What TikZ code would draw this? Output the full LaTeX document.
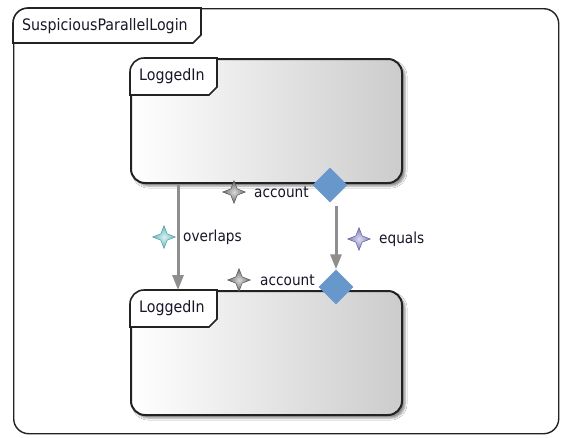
\documentclass[tikz,border=0pt]{standalone}
\usepackage{fontspec}
\setmainfont[FakeStretch=0.9]{DejaVu Sans}
\usetikzlibrary{arrows.meta,shapes.geometric,shadows.blur,calc}

\definecolor{edge}{RGB}{34,34,34}
\definecolor{ink}{RGB}{22,22,40}
\definecolor{flowgray}{RGB}{142,142,142}
\definecolor{keyblue}{RGB}{104,151,204}
\definecolor{boxgray}{RGB}{204,204,204}
\definecolor{stargray}{RGB}{105,105,105}
\definecolor{starteal}{RGB}{100,190,192}
\definecolor{starpurple}{RGB}{120,120,190}

\tikzset{
  frame/.style={draw=edge, line width=1.4pt, rounded corners=15pt, fill=white,
    minimum width=545pt, minimum height=425pt, anchor=north west, inner sep=0pt},
  statebox/.style={draw=edge, line width=2pt, rounded corners=14pt,
    left color=white, right color=boxgray,
    blur shadow={shadow xshift=3pt, shadow yshift=-3pt, shadow blur radius=2pt, shadow opacity=45},
    minimum width=271pt, minimum height=124pt, anchor=north west, inner sep=0pt},
  tabline/.style={draw=edge, line width=1.6pt, fill=white},
  namefont/.style={font=\fontsize{15.8}{18}\selectfont, text=ink, inner sep=0pt, anchor=west},
  labelfont/.style={font=\fontsize{15.2}{18}\selectfont, text=ink, inner sep=0pt, anchor=west},
  keynode/.style={diamond, fill=keyblue, minimum size=35pt, inner sep=0pt},
  marker/.style={star, star points=4, star point ratio=0.4, minimum size=9pt, inner sep=0pt,
    shape border rotate=45,
    shading=radial, inner color=#1!25, outer color=#1, draw=#1!80!black, line width=0.5pt},
  flow/.style={draw=flowgray, line width=3pt, -{Triangle[width=11pt,length=15pt]}},
}

\begin{document}
\begin{tikzpicture}[x=1pt,y=-1pt]
\useasboundingbox (0,0) rectangle (561,437);

% enclosing frame with its name tab
\node[frame] (frame) at (13,8) {};
\path[tabline] ($(frame.north west)+(0,35)$) -- ($(frame.north west)+(0,15)$)
  arc[start angle=180, end angle=270, radius=15]
  -- ($(frame.north west)+(188,0)$) -- ++(0,27) -- ++(-8,8) -- cycle;
\node[namefont] (title) at (22,26) {SuspiciousParallelLogin};

% the two states
\node[statebox] (top) at (130,58) {};
\node[statebox] (bot) at (130,290) {};

\foreach \s in {top,bot}{
  \path[tabline] ($(\s.north west)+(0,37)$) -- ($(\s.north west)+(0,14)$)
    arc[start angle=180, end angle=270, radius=14]
    -- ($(\s.north west)+(87,0)$) -- ++(0,29) -- ++(-8,8) -- cycle;
}
\node[namefont] (topname) at (139,76) {LoggedIn};
\node[namefont] (botname) at (139,308) {LoggedIn};

% key attributes
\node[keynode] (k1) at (330,185) {};
\node[keynode] (k2) at (336,287) {};

% connectors
\draw[flow] ($(top.south west)+(48,0)$) -- ($(bot.north west)+(48,0)$);
\draw[flow, shorten <=3pt] (k1.south -| k2.north) -- (k2.north);

% labels
\node[marker=stargray] (m1) at (234,192) {};
\node[labelfont] (l1) at (254,192) {account};
\node[marker=starteal] (m2) at (164,237) {};
\node[labelfont] (l2) at (183,237) {overlaps};
\node[marker=starpurple] (m3) at (359,239) {};
\node[labelfont] (l3) at (379,239) {equals};
\node[marker=stargray] (m4) at (239,280) {};
\node[labelfont] (l4) at (260,280) {account};
\end{tikzpicture}
\end{document}
